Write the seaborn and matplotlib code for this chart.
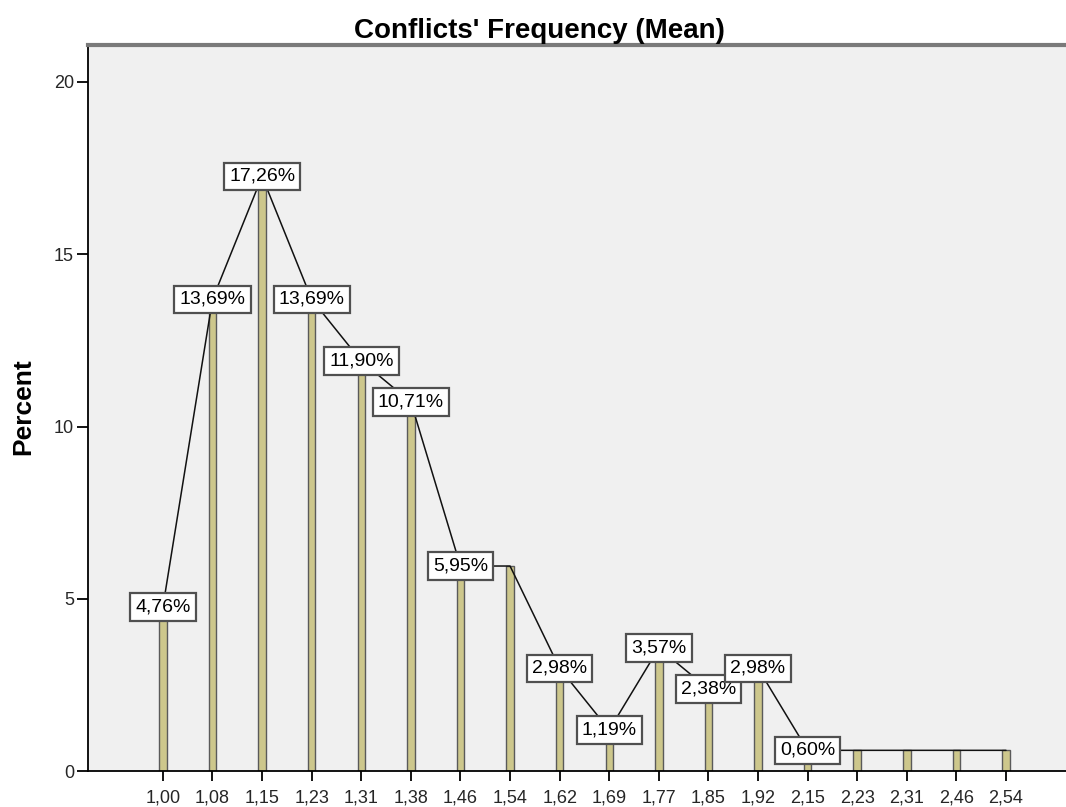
import numpy as np
import pandas as pd
import matplotlib
matplotlib.use("Agg")
import matplotlib.pyplot as plt
import seaborn as sns

categories = ["1,00", "1,08", "1,15", "1,23", "1,31", "1,38", "1,46", "1,54", "1,62",
              "1,69", "1,77", "1,85", "1,92", "2,15", "2,23", "2,31", "2,46", "2,54"]
percent = [4.76, 13.69, 17.26, 13.69, 11.90, 10.71, 5.95, 5.95, 2.98,
           1.19, 3.57, 2.38, 2.98, 0.60, 0.60, 0.60, 0.60, 0.60]
show_label = [True, True, True, True, True, True, True, False, True,
              True, True, True, True, True, False, False, False, False]
y_ticks = [0, 5, 10, 15, 20]

sns.set_style("white")
plt.rcParams['font.family'] = ['Liberation Sans', 'DejaVu Sans']

df = pd.DataFrame({"cat": categories, "pct": percent})

fig = plt.figure(figsize=(10.66, 8.07), dpi=100)
ax = fig.add_axes([88 / 1066, 1 - 771 / 807, 1 - 88 / 1066, (771 - 45) / 807])
ax.set_facecolor("#f0f0f0")

sns.barplot(data=df, x="cat", y="pct", order=categories, width=0.15,
            color="#cdc78c", edgecolor="#5a5a5a", linewidth=1.0, saturation=1,
            ax=ax, zorder=2)
sns.lineplot(x=np.arange(len(categories)), y=percent, color="#111111",
             linewidth=1.1, ax=ax, zorder=3)

for i, (v, s) in enumerate(zip(percent, show_label)):
    if s:
        ax.text(i, v, f"{v:.2f}%".replace(".", ","), ha="center", va="center",
                fontsize=14, color="black", zorder=5,
                bbox=dict(boxstyle="square,pad=0.26", facecolor="white",
                          edgecolor="#505050", linewidth=1.6))

ax.set_xlim(-1.51, 18.21)
ax.set_ylim(0, (771 - 45) / 34.45)
ax.set_yticks(y_ticks)
ax.set_yticklabels([str(t) for t in y_ticks])
ax.tick_params(axis="x", labelsize=13, length=7, width=1.3, direction="out",
               bottom=True, color="black", pad=6)
ax.tick_params(axis="y", labelsize=13, length=8, width=1.3, direction="out",
               left=True, color="black", pad=2)
ax.set_xlabel("")
ax.set_ylabel("")
fig.text(23 / 1066, 1 - 407 / 807, "Percent", rotation=90, ha="center",
         va="center", fontsize=19, fontweight="bold", color="black")
fig.text(539 / 1066, 1 - 38 / 807, "Conflicts' Frequency (Mean)", ha="center",
         va="baseline", fontsize=20, fontweight="bold", color="black")

for side in ["left", "bottom"]:
    ax.spines[side].set_color("black")
    ax.spines[side].set_linewidth(1.3)
ax.spines["top"].set_color("#7a7a7a")
ax.spines["top"].set_linewidth(3)
ax.spines["right"].set_visible(False)

fig.savefig("out.png", dpi=100)
